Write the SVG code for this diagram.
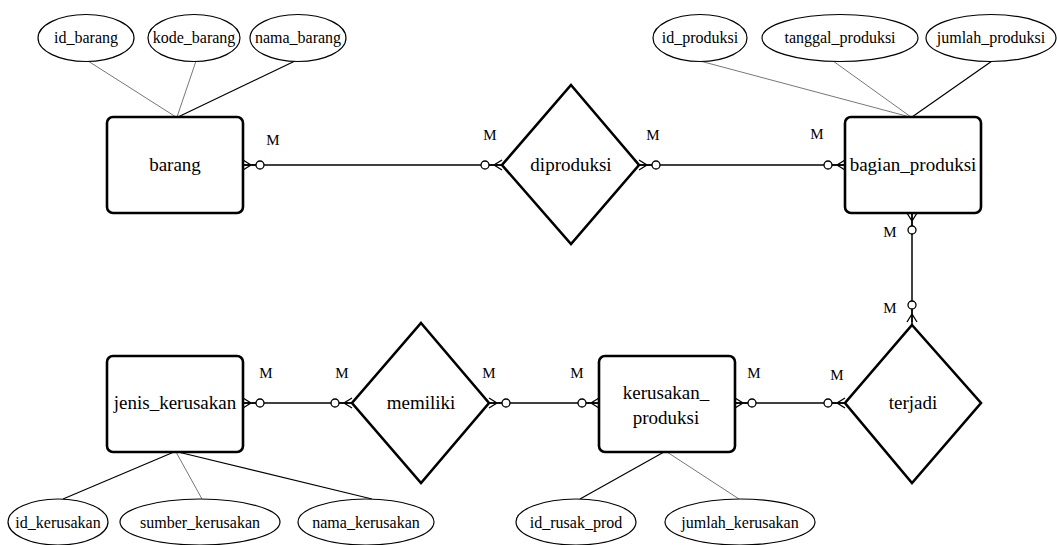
<svg xmlns="http://www.w3.org/2000/svg" xmlns:xlink="http://www.w3.org/1999/xlink" width="1057" height="545" viewBox="0 0 1057 545">
<style>
  text { font-family: 'Liberation Serif', 'Times New Roman', Times, 'DejaVu Serif', serif; fill: #000; text-anchor: middle; }
  .ent { fill: #fff; stroke: #000; stroke-width: 2.6; }
  .rel { fill: #fff; stroke: #000; stroke-width: 2.6; stroke-linejoin: miter; }
  .att { fill: #fff; stroke: #000; stroke-width: 1.2; }
  .lbl { font-size: 19px; }
  .atxt { font-size: 16px; }
  .card { font-size: 15px; }
  .conn { stroke: #000; stroke-width: 1.5; fill: none; }
  .aline { stroke: #000; stroke-width: 1.2; fill: none; }
  .aline.gray { stroke: #777; stroke-width: 1; }
  .cf path { stroke: #000; stroke-width: 1.3; fill: none; }
  .cf circle { stroke: #000; stroke-width: 1.3; fill: #fff; }
</style>
<defs>
  <g id="cf" class="cf">
    <path d="M0,-5 L8,0 L0,5 M0,0 L13,0"/>
    <circle cx="17" cy="0" r="4"/>
  </g>
</defs>

<g font-family="Liberation Serif, Times New Roman, DejaVu Serif, serif">
<g id="connectors">
  <line class="aline gray" x1="88" y1="61" x2="176" y2="117"/>
  <line class="aline gray" x1="196" y1="61" x2="177" y2="117"/>
  <line class="aline" x1="295" y1="61" x2="178" y2="117"/>
  <line class="aline gray" x1="700" y1="61" x2="910" y2="117"/>
  <line class="aline gray" x1="833" y1="61" x2="911" y2="117"/>
  <line class="aline" x1="992" y1="61" x2="912" y2="117"/>
  <line class="aline" x1="63" y1="499" x2="174" y2="452"/>
  <line class="aline gray" x1="202" y1="499" x2="176" y2="452"/>
  <line class="aline" x1="372" y1="499" x2="178" y2="452"/>
  <line class="aline" x1="580" y1="499" x2="664" y2="452"/>
  <line class="aline gray" x1="739" y1="499" x2="667" y2="452"/>
  <line class="conn" x1="243" y1="165" x2="502" y2="165"/>
  <line class="conn" x1="639" y1="165" x2="845" y2="165"/>
  <line class="conn" x1="912" y1="213" x2="912" y2="325"/>
  <line class="conn" x1="243" y1="403" x2="352" y2="403"/>
  <line class="conn" x1="489" y1="403" x2="599" y2="403"/>
  <line class="conn" x1="735" y1="403" x2="845" y2="403"/>
  <use xlink:href="#cf" transform="translate(243,165)"/>
  <use xlink:href="#cf" transform="translate(502,165) rotate(180)"/>
  <use xlink:href="#cf" transform="translate(639,165)"/>
  <use xlink:href="#cf" transform="translate(845,165) rotate(180)"/>
  <use xlink:href="#cf" transform="translate(912,213) rotate(90)"/>
  <use xlink:href="#cf" transform="translate(912,325) rotate(-90) translate(3,0)"/>
  <use xlink:href="#cf" transform="translate(243,403)"/>
  <use xlink:href="#cf" transform="translate(352,403) rotate(180)"/>
  <use xlink:href="#cf" transform="translate(489,403)"/>
  <use xlink:href="#cf" transform="translate(599,403) rotate(180)"/>
  <use xlink:href="#cf" transform="translate(735,403)"/>
  <use xlink:href="#cf" transform="translate(845,403) rotate(180)"/>
  <text class="card" x="273" y="145">M</text>
  <text class="card" x="490" y="140">M</text>
  <text class="card" x="653" y="140">M</text>
  <text class="card" x="817" y="139">M</text>
  <text class="card" x="890" y="237">M</text>
  <text class="card" x="890" y="313">M</text>
  <text class="card" x="266" y="378">M</text>
  <text class="card" x="342" y="378">M</text>
  <text class="card" x="489" y="378">M</text>
  <text class="card" x="577" y="378">M</text>
  <text class="card" x="754" y="378">M</text>
  <text class="card" x="837" y="380">M</text>
</g>

<g id="barang">
  <rect class="ent" x="107" y="117" width="136" height="96" rx="6"/>
  <text class="lbl" x="175" y="171">barang</text>
</g>
<g id="id_barang"><ellipse class="att" cx="86" cy="38" rx="48" ry="23.5"/><text class="atxt" x="86" y="43">id_barang</text></g>
<g id="kode_barang"><ellipse class="att" cx="194" cy="38" rx="46" ry="23.5"/><text class="atxt" x="194" y="43">kode_barang</text></g>
<g id="nama_barang"><ellipse class="att" cx="298" cy="38" rx="48" ry="23.5"/><text class="atxt" x="298" y="43">nama_barang</text></g>

<g id="diproduksi">
  <polygon class="rel" points="571,85 639,165 571,244 502,165"/>
  <text class="lbl" x="571" y="171">diproduksi</text>
</g>

<g id="bagian_produksi">
  <rect class="ent" x="845" y="117" width="136" height="96" rx="6"/>
  <text class="lbl" x="913" y="171">bagian_produksi</text>
</g>
<g id="id_produksi"><ellipse class="att" cx="700" cy="38" rx="47" ry="23.5"/><text class="atxt" x="700" y="43">id_produksi</text></g>
<g id="tanggal_produksi"><ellipse class="att" cx="840" cy="38" rx="78" ry="23.5"/><text class="atxt" x="840" y="43">tanggal_produksi</text></g>
<g id="jumlah_produksi"><ellipse class="att" cx="991" cy="38" rx="65" ry="23.5"/><text class="atxt" x="991" y="43">jumlah_produksi</text></g>

<g id="terjadi">
  <polygon class="rel" points="912,325 981,403 912,483 845,403"/>
  <text class="lbl" x="913" y="409">terjadi</text>
</g>

<g id="kerusakan_produksi">
  <rect class="ent" x="599" y="356" width="136" height="96" rx="6"/>
  <text class="lbl" x="666" y="399">kerusakan_</text>
  <text class="lbl" x="666" y="424">produksi</text>
</g>
<g id="id_rusak_prod"><ellipse class="att" cx="576" cy="522" rx="60" ry="23"/><text class="atxt" x="576" y="528">id_rusak_prod</text></g>
<g id="jumlah_kerusakan"><ellipse class="att" cx="740" cy="522" rx="75" ry="23"/><text class="atxt" x="740" y="528">jumlah_kerusakan</text></g>

<g id="memiliki">
  <polygon class="rel" points="421,323 489,403 421,483 352,403"/>
  <text class="lbl" x="421" y="409">memiliki</text>
</g>

<g id="jenis_kerusakan">
  <rect class="ent" x="107" y="356" width="136" height="96" rx="6"/>
  <text class="lbl" x="175" y="409">jenis_kerusakan</text>
</g>
<g id="id_kerusakan"><ellipse class="att" cx="58" cy="522" rx="50" ry="23"/><text class="atxt" x="58" y="528">id_kerusakan</text></g>
<g id="sumber_kerusakan"><ellipse class="att" cx="200" cy="522" rx="80" ry="23"/><text class="atxt" x="200" y="528">sumber_kerusakan</text></g>
<g id="nama_kerusakan"><ellipse class="att" cx="366" cy="522" rx="68" ry="23"/><text class="atxt" x="366" y="528">nama_kerusakan</text></g>
</g>
</svg>
